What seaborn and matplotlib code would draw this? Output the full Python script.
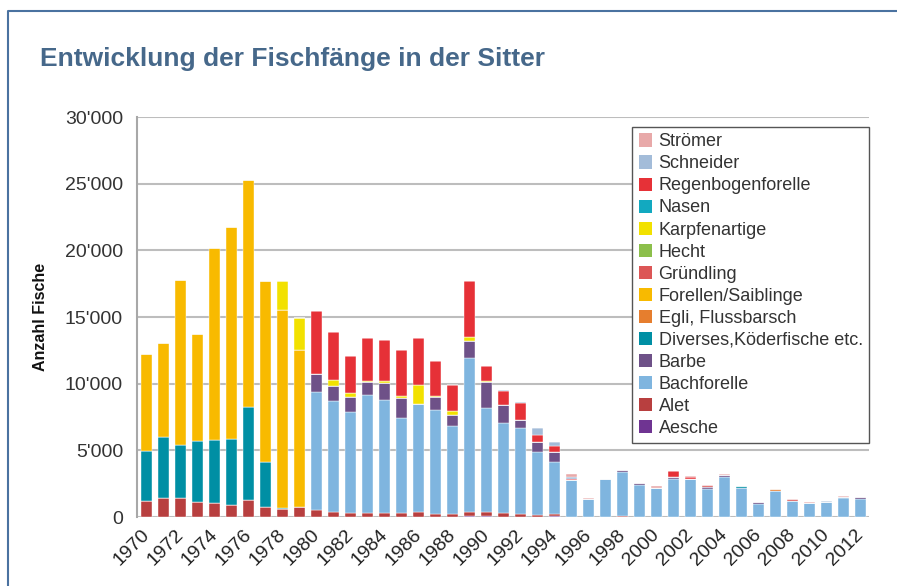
import pandas as pd
import numpy as np
import matplotlib.pyplot as plt
from matplotlib.patches import Patch
from matplotlib.lines import Line2D
import matplotlib.transforms as mtransforms
import seaborn as sns

years = list(range(1970, 2013))

# values per species, one per year 1970..2012 (rows: 70s, 80s, 90s, 00s, 10s)
aesche = [0, 0, 0, 0, 0, 0, 0, 0, 0, 0,
          0, 0, 0, 0, 0, 0, 0, 0, 0, 60,
          60, 0, 0, 0, 40, 0, 0, 0, 0, 0,
          0, 0, 0, 0, 0, 0, 0, 0, 0, 0,
          0, 0, 0]
alet = [1220, 1425, 1425, 1100, 1050, 875, 1275, 725, 600, 725,
        525, 400, 300, 300, 325, 275, 400, 250, 225, 325,
        325, 325, 225, 125, 175, 0, 0, 0, 40, 0,
        0, 0, 0, 0, 0, 0, 0, 0, 0, 0,
        0, 0, 0]
bachforelle = [0, 0, 0, 0, 0, 0, 0, 0, 0, 0,
               8825, 8325, 7550, 8825, 8425, 7150, 8100, 7750, 6575, 11550,
               7800, 6725, 6450, 4725, 3925, 2800, 1375, 2875, 3325, 2425,
               2200, 2875, 2825, 2125, 3025, 2200, 950, 1975, 1225, 1025,
               1125, 1425, 1350]
barbe = [0, 0, 0, 0, 0, 0, 0, 0, 0, 0,
         1400, 1125, 1125, 975, 1275, 1500, 0, 975, 875, 1300,
         1975, 1375, 575, 750, 750, 0, 0, 0, 125, 150,
         0, 100, 0, 150, 100, 0, 150, 0, 0, 0,
         0, 100, 125]
diverses = [3700, 4575, 4000, 4625, 4750, 4950, 7000, 3375, 75, 0,
            0, 0, 0, 0, 0, 0, 0, 0, 0, 0,
            0, 0, 0, 0, 0, 0, 0, 0, 0, 0,
            0, 0, 0, 0, 0, 120, 0, 0, 0, 0,
            0, 0, 0]
egli = [0, 0, 0, 0, 0, 0, 0, 0, 0, 0,
        0, 0, 0, 0, 0, 0, 0, 0, 0, 0,
        0, 0, 0, 0, 0, 0, 0, 0, 0, 0,
        0, 0, 0, 0, 0, 0, 0, 100, 0, 0,
        0, 0, 0]
forellen = [7300, 7050, 12325, 8025, 14375, 15900, 17000, 13575, 14825, 11800,
            0, 0, 0, 0, 0, 0, 0, 0, 0, 0,
            0, 0, 0, 0, 0, 0, 0, 0, 0, 0,
            0, 0, 0, 0, 0, 0, 0, 0, 0, 0,
            0, 0, 0]
gruendling = [0, 0, 0, 0, 0, 0, 0, 0, 0, 0,
              0, 0, 0, 0, 0, 0, 0, 0, 0, 0,
              0, 0, 0, 0, 0, 0, 0, 0, 0, 0,
              0, 0, 0, 125, 0, 0, 0, 0, 125, 0,
              0, 0, 0]
hecht = [0, 0, 0, 0, 0, 0, 0, 0, 0, 0,
         0, 0, 0, 0, 0, 0, 0, 0, 0, 0,
         0, 0, 50, 0, 0, 0, 0, 0, 0, 0,
         0, 0, 0, 0, 0, 0, 0, 0, 0, 0,
         0, 0, 0]
karpfen = [0, 0, 0, 0, 0, 0, 0, 0, 2175, 2425,
           0, 400, 325, 75, 175, 175, 1400, 75, 275, 250,
           50, 0, 0, 0, 0, 0, 0, 0, 0, 0,
           0, 0, 0, 0, 0, 0, 0, 0, 0, 0,
           0, 0, 0]
nasen = [0, 0, 0, 0, 0, 0, 0, 0, 0, 0,
         0, 0, 0, 0, 0, 0, 0, 0, 0, 0,
         0, 0, 0, 0, 0, 0, 0, 0, 0, 0,
         0, 0, 0, 0, 0, 0, 0, 0, 0, 0,
         0, 0, 0]
regenbogen = [0, 0, 0, 0, 0, 0, 0, 0, 0, 0,
              4675, 3625, 2750, 3225, 3050, 3450, 3525, 2675, 1950, 4250,
              1100, 1050, 1225, 575, 450, 75, 0, 0, 0, 0,
              0, 500, 150, 0, 0, 0, 0, 0, 0, 0,
              0, 0, 0]
schneider = [0, 0, 0, 0, 0, 0, 0, 0, 0, 0,
             0, 0, 0, 0, 0, 0, 0, 0, 0, 0,
             0, 75, 75, 500, 300, 150, 0, 0, 0, 0,
             0, 0, 0, 0, 0, 0, 0, 0, 0, 0,
             100, 0, 0]
stroemer = [0, 0, 0, 0, 0, 0, 0, 0, 0, 0,
            0, 0, 0, 0, 0, 0, 0, 0, 0, 0,
            0, 0, 0, 0, 0, 225, 50, 0, 50, 0,
            100, 0, 100, 0, 75, 0, 0, 0, 0, 75,
            0, 50, 0]

# legend order (top to bottom); seaborn stacks the last level at the bottom
species = ["Strömer", "Schneider", "Regenbogenforelle", "Nasen", "Karpfenartige",
           "Hecht", "Gründling", "Forellen/Saiblinge", "Egli, Flussbarsch",
           "Diverses,Köderfische etc.", "Barbe", "Bachforelle", "Alet", "Aesche"]
values = [stroemer, schneider, regenbogen, nasen, karpfen, hecht, gruendling,
          forellen, egli, diverses, barbe, bachforelle, alet, aesche]
colors = ["#E8A9A9", "#A3BCD9", "#E63137", "#12A9C0", "#F2E100", "#8CBF4B",
          "#DC5656", "#F8BA00", "#E67E2E", "#008FA4", "#6E5188", "#7FB5DF",
          "#B83F3F", "#6F3492"]

yticks = [0, 5000, 10000, 15000, 20000, 25000, 30000]
ytick_labels = ["0", "5'000", "10'000", "15'000", "20'000", "25'000", "30'000"]
xticks = list(range(1970, 2013, 2))

df = pd.concat([pd.DataFrame({"Jahr": years, "Art": name, "Anzahl": vals})
                for name, vals in zip(species, values)], ignore_index=True)

sns.set_theme(style="white")
plt.rcParams["font.family"] = ["Liberation Sans", "DejaVu Sans"]

fig = plt.figure(figsize=(8.97, 5.86), dpi=100)
ax = fig.add_axes([137 / 897, 1 - 517 / 586, 732 / 897, 400 / 586])

sns.histplot(data=df, x="Jahr", weights="Anzahl", hue="Art", hue_order=species,
             palette=dict(zip(species, colors)), multiple="stack", discrete=True,
             shrink=0.64, alpha=1, edgecolor="white", linewidth=0.3,
             legend=False, ax=ax, zorder=3)

ax.set_xlim(1969.43, 2012.5)
ax.set_ylim(0, 30000)
ax.set_yticks(yticks)
ax.set_yticklabels(ytick_labels, fontsize=14, color="#333333")
ax.set_xticks(xticks)
ax.set_xticklabels([str(y) for y in xticks], fontsize=14, color="#222222",
                   rotation=45, ha="right", va="center", rotation_mode="anchor")
# nudge the rotated year labels a little to the right
shift = mtransforms.ScaledTranslation(4 / 100, 0, fig.dpi_scale_trans)
for lbl in ax.get_xticklabels():
    lbl.set_transform(lbl.get_transform() + shift)
ax.tick_params(axis="both", length=0)
ax.tick_params(axis="x", pad=11)
ax.tick_params(axis="y", pad=10)
ax.set_xlabel("")
ax.set_ylabel("Anzahl Fische", fontsize=11.5, fontweight="bold", color="#111111")
ax.yaxis.set_label_coords(-0.121, 0.5)

ax.grid(axis="y", color="#BDBDBD", linewidth=1.5, zorder=0)
ax.set_axisbelow(True)
for side in ["top", "right", "bottom"]:
    ax.spines[side].set_visible(False)
ax.spines["left"].set_color("#A8A8A8")
ax.spines["left"].set_linewidth(1.5)

handles = [Patch(facecolor=c, edgecolor="none") for c in colors]
leg = ax.legend(handles, species, loc="upper right", bbox_to_anchor=(1.0, 0.975),
                borderaxespad=0, fontsize=13, frameon=True, fancybox=False,
                framealpha=1, edgecolor="#555555", handlelength=0.75,
                handleheight=0.75, handletextpad=0.35, labelspacing=0.28,
                borderpad=0.35)
leg.get_frame().set_linewidth(1.0)
for t in leg.get_texts():
    t.set_color("#333333")

fig.text(40 / 897, 1 - 66 / 586, "Entwicklung der Fischfänge in der Sitter",
         fontsize=19, fontweight="bold", color="#46688A", va="baseline", ha="left")

# outer frame (top and left edges)
fig.add_artist(Line2D([8 / 897, 8 / 897, 1.0], [0.0, 1 - 11 / 586, 1 - 11 / 586],
                      transform=fig.transFigure, color="#4A72A0", linewidth=1.5))

plt.savefig("out.png", dpi=100)
plt.close()
